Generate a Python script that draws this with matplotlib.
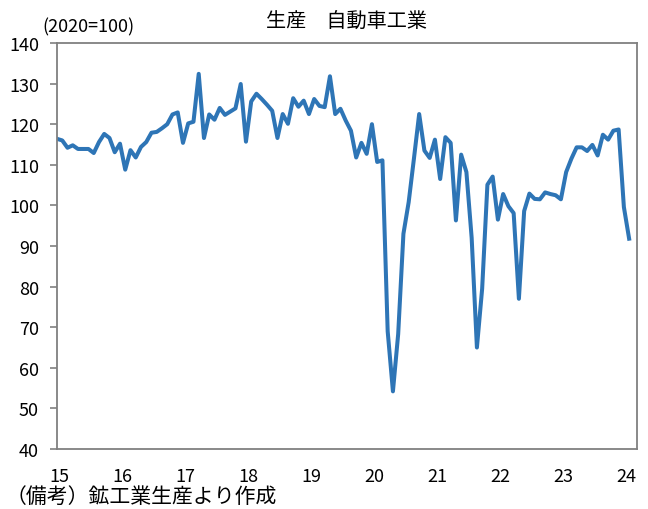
import numpy as np
import matplotlib
matplotlib.use("Agg")
import matplotlib.pyplot as plt

plt.rcParams['font.family'] = ['Noto Sans CJK JP', 'DejaVu Sans']

# Monthly index, Jan 2015 - Feb 2024 (2020=100)
values = [
    116.4, 116.0, 114.2, 114.8, 113.9, 113.9, 113.9, 112.9, 115.6, 117.6, 116.6, 113.1,  # 2015
    115.2, 108.8, 113.6, 111.8, 114.4, 115.6, 117.9, 118.1, 119.0, 120.0, 122.4, 122.9,  # 2016
    115.4, 120.2, 120.6, 132.4, 116.6, 122.4, 121.1, 124.0, 122.3, 123.1, 123.9, 129.9,  # 2017
    115.7, 125.6, 127.5, 126.2, 124.8, 123.3, 116.6, 122.5, 120.1, 126.4, 124.3, 125.8,  # 2018
    122.5, 126.2, 124.5, 124.2, 131.8, 122.5, 123.8, 120.9, 118.4, 111.8, 115.4, 112.7,  # 2019
    120.0, 110.7, 111.1, 69.0, 54.2, 68.3, 93.0, 100.8, 111.5, 122.5, 113.5, 111.7,      # 2020
    116.2, 106.5, 116.8, 115.4, 96.3, 112.5, 108.2, 92.0, 65.0, 79.5, 105.1, 107.1,      # 2021
    96.5, 102.8, 99.8, 98.1, 77.0, 98.6, 102.9, 101.6, 101.5, 103.2, 102.8, 102.5,       # 2022
    101.5, 108.2, 111.5, 114.3, 114.3, 113.4, 114.9, 112.3, 117.4, 116.2, 118.4, 118.7,  # 2023
    99.6, 91.8,                                                                         # 2024
]
year_labels = ["15", "16", "17", "18", "19", "20", "21", "22", "23", "24"]
y_ticks = [40, 50, 60, 70, 80, 90, 100, 110, 120, 130, 140]

months = np.arange(len(values))

fig = plt.figure(figsize=(6.48, 5.10), dpi=100)
ax = fig.add_axes([57/648, 60/510, (637-57)/648, (450-44)/510])

ax.plot(months, values, color='#2e75b6', linewidth=2.9, solid_joinstyle='round')

ax.set_xlim(0, 110.5)
ax.set_ylim(40, 140)
ax.set_yticks(y_ticks)
ax.set_xticks([12 * i + 0.5 for i in range(len(year_labels))])
ax.set_xticklabels(year_labels)

for s in ax.spines.values():
    s.set_color('#808080')
    s.set_linewidth(1.3)

ax.tick_params(axis='y', direction='out', length=5, width=1.2, color='#808080',
               labelsize=13, pad=8, labelcolor='black')
ax.tick_params(axis='x', length=0, labelsize=13, pad=13, labelcolor='black')

fig.text(346/648, 1 - 22/510, "生産\u3000自動車工業", ha='center', va='center', fontsize=14.5)
fig.text(42/648, 1 - 27/510, "(2020=100)", ha='left', va='center', fontsize=13)
fig.text(6/648, 1 - 497/510, "（備考）鉱工業生産より作成", ha='left', va='center', fontsize=15)

fig.savefig("out.png", dpi=100)
